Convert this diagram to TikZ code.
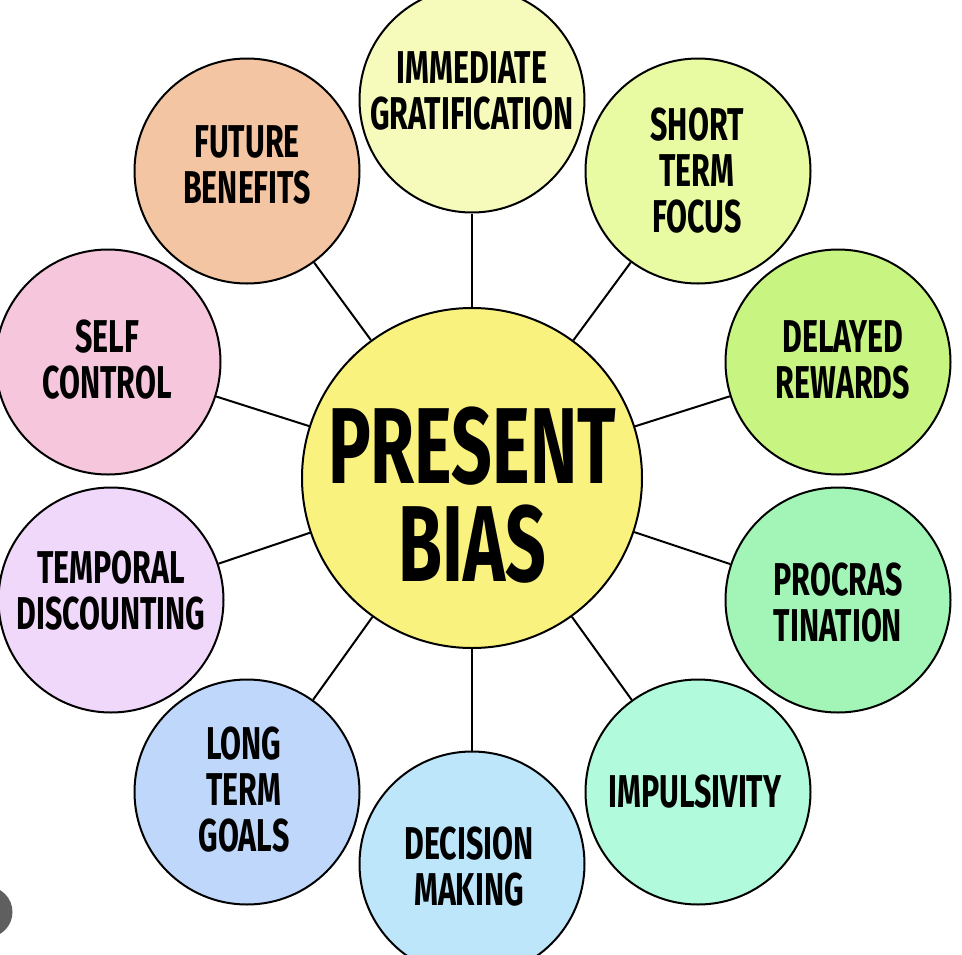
\documentclass[tikz,border=0pt]{standalone}
\usepackage{fontspec}
\setmainfont{Fira Sans}[FakeStretch=0.66]
\definecolor{cCenter}{HTML}{FAF27E}
\definecolor{cIG}{HTML}{F6FABA}
\definecolor{cST}{HTML}{E8FAA2}
\definecolor{cDR}{HTML}{C8F582}
\definecolor{cPR}{HTML}{A2F5B6}
\definecolor{cIM}{HTML}{B2FADC}
\definecolor{cDM}{HTML}{BEE6FA}
\definecolor{cLT}{HTML}{BED7FA}
\definecolor{cTD}{HTML}{F0D8FA}
\definecolor{cSC}{HTML}{F5C6DC}
\definecolor{cFB}{HTML}{F4C5A2}
\definecolor{cDot}{HTML}{5F5F5F}
\begin{document}
\begin{tikzpicture}[x=1pt,y=-1pt,
  bub/.style={circle,draw=black,line width=2pt,minimum size=225pt,inner sep=0pt},
  hub/.style={circle,draw=black,line width=2pt,minimum size=340pt,inner sep=0pt},
  lbl/.style={align=center,inner sep=0pt,font=\fontsize{46}{46}\selectfont\bfseries},
  biglbl/.style={align=center,inner sep=0pt,font=\fontsize{108}{98}\selectfont\bfseries},
  link/.style={line width=2pt}]
\useasboundingbox (0,0) rectangle (962,954);
\fill[white] (0,0) rectangle (962,954);
% hub
\node[hub,fill=cCenter] (c) at (472,478) {};
% outer bubbles
\node[bub,fill=cIG] (ig) at (472,100) {};
\node[bub,fill=cST] (st) at (698,171) {};
\node[bub,fill=cDR] (dr) at (838,362) {};
\node[bub,fill=cPR] (pr) at (838,600) {};
\node[bub,fill=cIM] (im) at (698,792) {};
\node[bub,fill=cDM] (dm) at (472,864) {};
\node[bub,fill=cLT] (lt) at (247,792) {};
\node[bub,fill=cTD] (td) at (111,600) {};
\node[bub,fill=cSC] (sc) at (108,362) {};
\node[bub,fill=cFB] (fb) at (247,171) {};
% connectors
\foreach \n in {ig,st,dr,pr,im,dm,lt,td,sc,fb}
  \draw[link] (c) -- (\n);
% texts
\node[biglbl] (tc) at (472,495) {PRESENT\\BIAS};
\node[lbl] (tig) at (472,91) {IMMEDIATE\\GRATIFICATION};
\node[lbl] (tst) at (697,171) {SHORT\\TERM\\FOCUS};
\node[lbl] (tdr) at (843,360) {DELAYED\\REWARDS};
\node[lbl] (tpr) at (838,603) {PROCRAS\\TINATION};
\node[lbl] (tim) at (695,792) {IMPULSIVITY};
\node[lbl] (tdm) at (469,867) {DECISION\\MAKING};
\node[lbl] (tlt) at (244,790) {LONG\\TERM\\GOALS};
\node[lbl] (ttd) at (111,591) {TEMPORAL\\DISCOUNTING};
\node[lbl] (tsc) at (107,360) {SELF\\CONTROL};
\node[lbl] (tfb) at (247,165) {FUTURE\\BENEFITS};
% grey dot at bottom-left edge
\fill[cDot] (-13,912) circle (25.5);
\end{tikzpicture}
\end{document}
